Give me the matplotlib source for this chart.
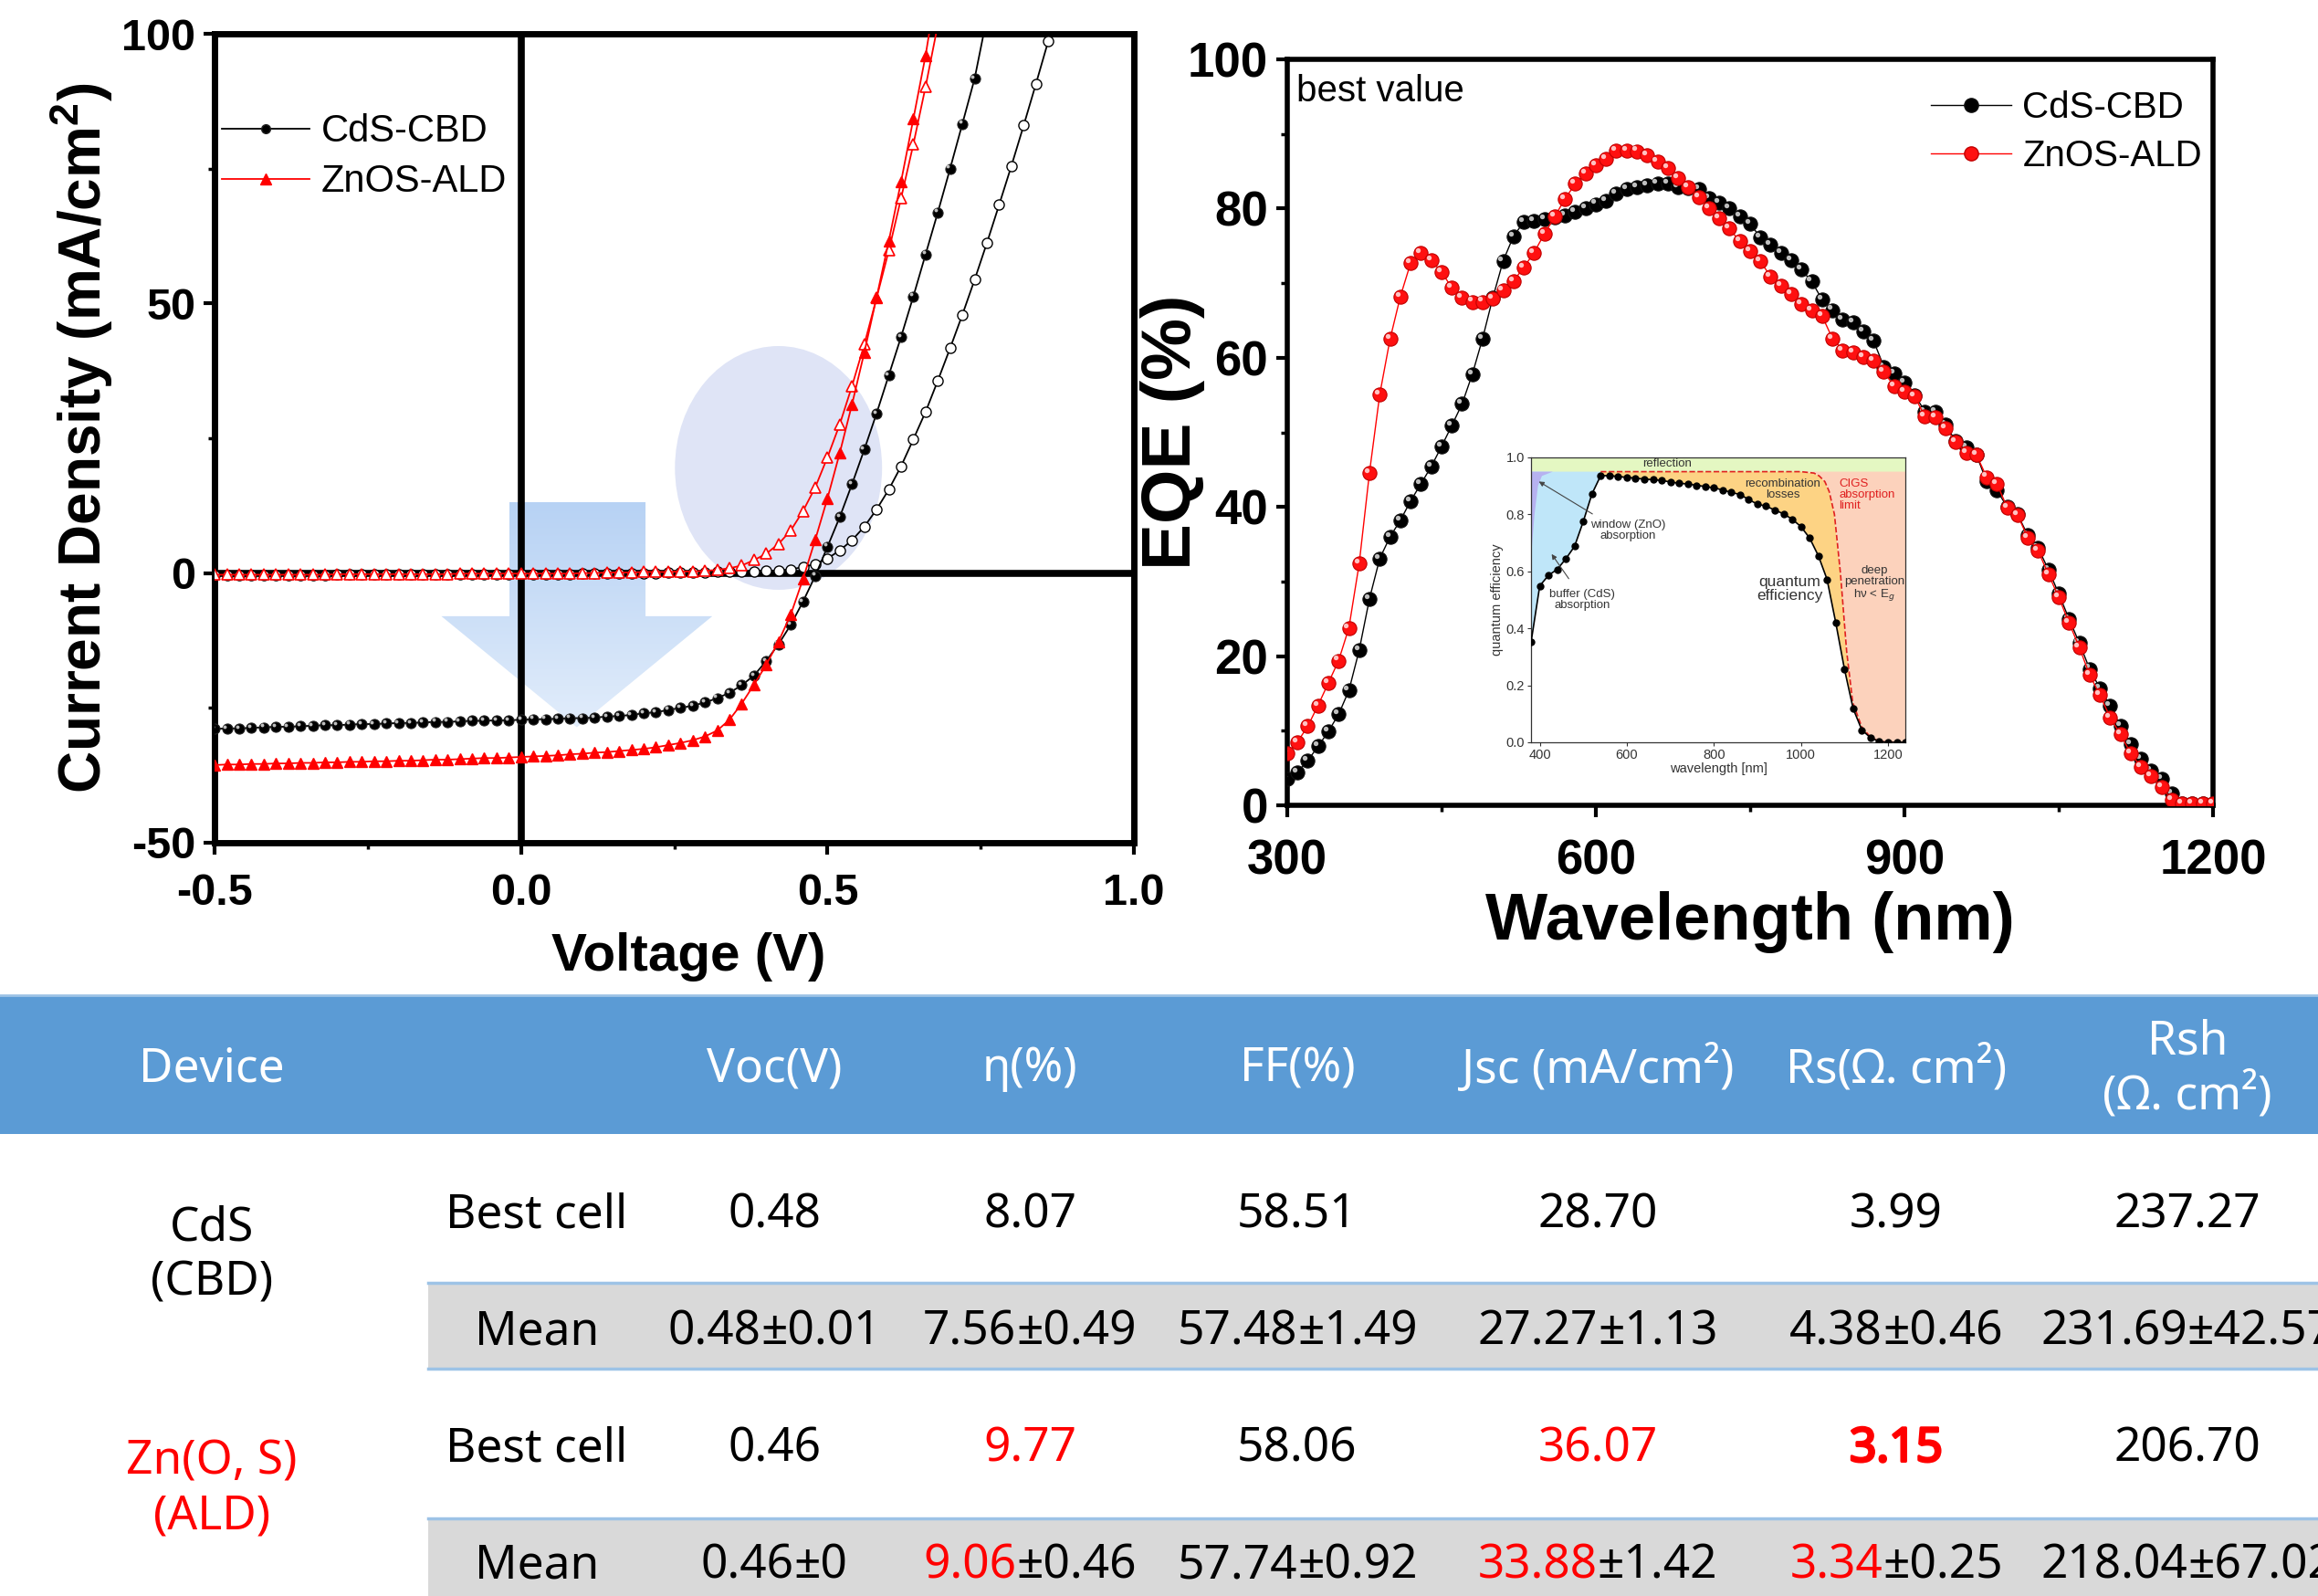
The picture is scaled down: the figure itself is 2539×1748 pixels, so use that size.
import numpy as np
import matplotlib
matplotlib.use("Agg")
import matplotlib.pyplot as plt
import matplotlib.transforms as mtransforms
import matplotlib.patheffects as pe
from matplotlib.patches import Polygon, Ellipse, Rectangle
from matplotlib.lines import Line2D
from matplotlib.colors import LinearSegmentedColormap

plt.rcParams["font.family"] = ["Liberation Sans", "DejaVu Sans"]
plt.rcParams["mathtext.fontset"] = "custom"
plt.rcParams["mathtext.rm"] = "Liberation Sans"
plt.rcParams["mathtext.bf"] = "Liberation Sans:bold"
plt.rcParams["axes.unicode_minus"] = False

# ---------------------------
# J-V data (V step 0.02)
# ---------------------------
volt = [-0.50, -0.48, -0.46, -0.44, -0.42, -0.40, -0.38, -0.36, -0.34, -0.32,
        -0.30, -0.28, -0.26, -0.24, -0.22, -0.20, -0.18, -0.16, -0.14, -0.12,
        -0.10, -0.08, -0.06, -0.04, -0.02, 0.00, 0.02, 0.04, 0.06, 0.08,
        0.10, 0.12, 0.14, 0.16, 0.18, 0.20, 0.22, 0.24, 0.26, 0.28,
        0.30, 0.32, 0.34, 0.36, 0.38, 0.40, 0.42, 0.44, 0.46, 0.48,
        0.50, 0.52, 0.54, 0.56, 0.58, 0.60, 0.62, 0.64, 0.66, 0.68,
        0.70, 0.72, 0.74, 0.76, 0.78, 0.80, 0.82, 0.84, 0.86, 0.88]

j_cds_light = [-28.9, -28.8, -28.8, -28.7, -28.6, -28.5, -28.5, -28.4, -28.3, -28.2,
               -28.2, -28.1, -28.0, -28.0, -27.9, -27.8, -27.8, -27.7, -27.6, -27.6,
               -27.5, -27.4, -27.4, -27.3, -27.3, -27.2, -27.1, -27.1, -27.0, -26.9,
               -26.9, -26.8, -26.6, -26.5, -26.3, -26.0, -25.8, -25.4, -25.0, -24.6,
               -24.0, -23.2, -22.2, -20.8, -19.0, -16.3, -13.2, -9.6, -5.3, -0.5,
               4.9, 10.4, 16.5, 22.9, 29.6, 36.7, 43.8, 51.3, 59.1, 66.9,
               75.0, 83.3, 91.7, 103.0]

j_cds_dark = [-0.4, -0.4, -0.4, -0.4, -0.4, -0.4, -0.4, -0.4, -0.4, -0.4,
              -0.3, -0.3, -0.3, -0.3, -0.3, -0.3, -0.3, -0.3, -0.3, -0.3,
              -0.2, -0.2, -0.2, -0.2, -0.2, -0.2, -0.2, -0.2, -0.2, -0.2,
              -0.1, -0.1, -0.1, 0.0, 0.0, 0.0, 0.0, 0.1, 0.1, 0.1,
              0.1, 0.2, 0.2, 0.3, 0.3, 0.4, 0.5, 0.7, 1.1, 1.7,
              2.7, 4.2, 6.1, 8.6, 11.8, 15.5, 19.8, 24.8, 29.9, 35.7,
              41.7, 47.9, 54.4, 61.2, 68.3, 75.5, 83.0, 90.7, 98.6, 106.6]

j_zno_light = [-35.6, -35.5, -35.5, -35.4, -35.4, -35.3, -35.3, -35.2, -35.2, -35.1,
               -35.1, -35.0, -35.0, -34.9, -34.9, -34.8, -34.8, -34.7, -34.6, -34.6,
               -34.5, -34.4, -34.3, -34.3, -34.2, -34.1, -34.0, -33.9, -33.8, -33.6,
               -33.5, -33.3, -33.2, -33.0, -32.8, -32.6, -32.3, -31.9, -31.5, -31.0,
               -30.3, -29.2, -27.2, -24.2, -20.7, -17.0, -12.7, -7.7, -1.1, 6.2,
               13.9, 22.3, 31.3, 40.9, 51.1, 61.6, 72.6, 84.2, 96.0, 110.0]

j_zno_dark = [-0.3, -0.3, -0.3, -0.3, -0.3, -0.3, -0.3, -0.3, -0.3, -0.3,
              -0.2, -0.2, -0.2, -0.2, -0.2, -0.2, -0.2, -0.2, -0.2, -0.2,
              -0.1, -0.1, -0.1, -0.1, -0.1, -0.1, -0.1, -0.1, -0.1, -0.1,
              0.0, 0.0, 0.1, 0.1, 0.1, 0.2, 0.2, 0.2, 0.3, 0.3,
              0.4, 0.6, 0.9, 1.4, 2.4, 3.6, 5.4, 7.9, 11.5, 15.9,
              21.5, 27.6, 34.7, 42.4, 51.0, 59.8, 69.5, 79.5, 90.2, 101.7]

# ---------------------------
# EQE data (10 nm step)
# ---------------------------
wl = [300, 310, 320, 330, 340, 350, 360, 370, 380, 390,
      400, 410, 420, 430, 440, 450, 460, 470, 480, 490,
      500, 510, 520, 530, 540, 550, 560, 570, 580, 590,
      600, 610, 620, 630, 640, 650, 660, 670, 680, 690,
      700, 710, 720, 730, 740, 750, 760, 770, 780, 790,
      800, 810, 820, 830, 840, 850, 860, 870, 880, 890,
      900, 910, 920, 930, 940, 950, 960, 970, 980, 990,
      1000, 1010, 1020, 1030, 1040, 1050, 1060, 1070, 1080, 1090,
      1100, 1110, 1120, 1130, 1140, 1150, 1160, 1170, 1180, 1190, 1200]

eqe_cds = [3.6, 4.4, 6.0, 7.9, 9.9, 12.2, 15.4, 20.8, 27.7, 33.1,
           36.0, 38.2, 40.8, 43.1, 45.4, 48.1, 50.9, 53.8, 57.8, 62.6,
           68.1, 73.0, 76.3, 78.2, 78.3, 78.6, 78.8, 79.1, 79.6, 80.0,
           80.6, 81.0, 82.0, 82.6, 82.9, 83.1, 83.4, 83.4, 82.9, 82.7,
           82.6, 81.4, 80.8, 80.0, 78.9, 78.0, 76.1, 75.2, 74.1, 73.1,
           71.8, 70.2, 67.8, 66.4, 65.1, 64.7, 63.5, 62.3, 58.8, 57.9,
           56.7, 55.0, 52.8, 52.8, 51.0, 48.8, 48.0, 47.0, 43.4, 42.2,
           40.0, 39.0, 36.2, 34.5, 31.6, 28.4, 25.0, 21.8, 18.3, 15.7,
           13.3, 10.6, 8.2, 6.2, 4.7, 3.6, 1.6, 0.3, 0.3, 0.3, 0.3]

eqe_zno = [7.0, 8.5, 10.6, 13.4, 16.4, 19.4, 23.8, 32.4, 44.6, 55.1,
           62.5, 68.2, 72.7, 74.1, 73.1, 71.5, 69.4, 68.1, 67.5, 67.5,
           67.9, 69.0, 70.3, 72.1, 74.1, 76.6, 78.9, 81.3, 83.3, 84.7,
           85.8, 86.7, 87.8, 87.8, 87.7, 87.1, 86.3, 85.4, 84.1, 82.9,
           81.5, 80.1, 78.7, 77.3, 75.6, 74.3, 72.9, 70.9, 69.7, 68.6,
           67.2, 66.3, 65.6, 62.6, 61.0, 60.7, 60.1, 59.6, 58.1, 56.2,
           55.5, 54.8, 52.1, 52.0, 50.6, 48.7, 47.2, 47.0, 44.0, 43.1,
           39.9, 38.9, 35.9, 34.1, 31.0, 27.9, 24.5, 21.2, 17.5, 14.8,
           11.8, 9.5, 7.0, 5.1, 3.9, 2.5, 0.7, 0.3, 0.3, 0.3, 0.3]

# inset: generic CIGS quantum efficiency (20 nm step)
wl_in = [380, 400, 420, 440, 460, 480, 500, 520, 540, 560,
         580, 600, 620, 640, 660, 680, 700, 720, 740, 760,
         780, 800, 820, 840, 860, 880, 900, 920, 940, 960,
         980, 1000, 1020, 1040, 1060, 1080, 1100, 1120, 1140, 1160,
         1180, 1200, 1220, 1240]
qe_in = [0.351, 0.549, 0.586, 0.607, 0.644, 0.688, 0.775, 0.872, 0.936, 0.936,
         0.933, 0.930, 0.927, 0.924, 0.922, 0.919, 0.914, 0.909, 0.907, 0.902,
         0.898, 0.893, 0.886, 0.877, 0.870, 0.852, 0.836, 0.829, 0.815, 0.802,
         0.783, 0.757, 0.717, 0.655, 0.572, 0.420, 0.257, 0.118, 0.043, 0.016,
         0.003, 0.0, 0.0, 0.0]
limit_wl = [540, 1000, 1030, 1042, 1055, 1065, 1077, 1091, 1105, 1119, 1140, 1161, 1182, 1240]
limit_qe = [0.95, 0.95, 0.945, 0.935, 0.915, 0.88, 0.80, 0.59, 0.32, 0.14, 0.053, 0.016, 0.002, 0.0]
window_wl = [380, 388, 396, 405, 430, 380]
window_qe = [0.65, 0.80, 0.90, 0.935, 0.95, 0.95]

# ---------------------------
# Table data
# ---------------------------
table_cols = ["Voc(V)", "η(%)", "FF(%)", "Jsc (mA/cm²)", "Rs(Ω. cm²)", "Rsh\n(Ω. cm²)"]
cds_best = ["0.48", "8.07", "58.51", "28.70", "3.99", "237.27"]
cds_mean = ["0.48±0.01", "7.56±0.49", "57.48±1.49", "27.27±1.13", "4.38±0.46", "231.69±42.57"]
zno_best = ["0.46", "9.77", "58.06", "36.07", "3.15", "206.70"]
zno_mean = ["0.46±0", "9.06±0.46", "57.74±0.92", "33.88±1.42", "3.34±0.25", "218.04±67.02"]
zno_red_cols = [1, 3, 4]


fig = plt.figure(figsize=(25.39, 17.48), dpi=100)


def sphere_plot(ax, x, y, face, edge, line_color, ms, lw, zorder):
    ax.plot(x, y, "-", color=line_color, lw=lw, marker="o", ms=ms, mfc=face,
            mec=edge, mew=0.8, zorder=zorder)
    off = mtransforms.ScaledTranslation(-ms * 0.2 / 72, ms * 0.2 / 72, fig.dpi_scale_trans)
    ax.plot(x, y, linestyle="none", marker="o", ms=ms * 0.35, mfc="white", mec="none",
            alpha=0.75, transform=ax.transData + off, zorder=zorder + 0.1)


# ---------------------------
# J-V panel
# ---------------------------
ax_jv = fig.add_axes([0.0926, 0.4720, 0.3966, 0.5068])

# decorative down arrow with vertical gradient
arrow_v = [-0.019, -0.019, -0.130, 0.091, 0.312, 0.203, 0.203]
arrow_j = [13.2, -8.0, -8.0, -28.6, -8.0, -8.0, 13.2]
arrow = Polygon(list(zip(arrow_v, arrow_j)), closed=True, facecolor="none", edgecolor="none")
ax_jv.add_patch(arrow)
cmap = LinearSegmentedColormap.from_list("arr", ["#b7d2f4", "#e2edfb"])
grad = np.linspace(0, 1, 256).reshape(-1, 1)
im = ax_jv.imshow(grad, extent=[-0.130, 0.312, -28.6, 13.2], origin="upper", cmap=cmap,
                  aspect="auto", zorder=0.5)
im.set_clip_path(arrow)
ax_jv.add_patch(Ellipse((0.42, 19.5), 0.338, 45.2, facecolor="#dfe4f6", edgecolor="none", zorder=0.6))

ax_jv.axhline(0, color="black", lw=5.5, zorder=1)
ax_jv.axvline(0, color="black", lw=5.5, zorder=1)

ax_jv.plot(volt[:len(j_zno_dark)], j_zno_dark, "-", color="red", lw=1.3, marker="^", ms=9,
           mfc="white", mec="red", mew=1.2, zorder=3)
ax_jv.plot(volt[:len(j_cds_dark)], j_cds_dark, "-", color="black", lw=1.3, marker="o", ms=8,
           mfc="white", mec="black", mew=1.0, zorder=2.8)
sphere_plot(ax_jv, volt[:len(j_cds_light)], j_cds_light, "black", "#222222", "black", 8, 1.3, 3.2)
ax_jv.plot(volt[:len(j_zno_light)], j_zno_light, "-", color="red", lw=1.3, marker="^", ms=9,
           mfc="red", mec="red", zorder=3.4)

ax_jv.set_xlim(-0.5, 1.0)
ax_jv.set_ylim(-50, 100)
ax_jv.set_xticks([-0.5, 0.0, 0.5, 1.0])
ax_jv.set_xticklabels(["-0.5", "0.0", "0.5", "1.0"])
ax_jv.set_xticks([-0.25, 0.25, 0.75], minor=True)
ax_jv.set_yticks([-50, 0, 50, 100])
ax_jv.set_yticks([-25, 25, 75], minor=True)
for s in ax_jv.spines.values():
    s.set_linewidth(5)
ax_jv.tick_params(which="major", direction="out", length=9, width=3, labelsize=35, pad=6)
ax_jv.tick_params(axis="x", which="major", pad=15)
ax_jv.tick_params(which="minor", direction="out", length=5, width=2.5)
for lab in ax_jv.get_xticklabels() + ax_jv.get_yticklabels():
    lab.set_fontweight("bold")
ax_jv.set_xlabel("Voltage (V)", fontsize=42, fontweight="bold")
ax_jv.xaxis.set_label_coords(0.515, -0.111)
ax_jv.set_ylabel(r"Current Density (mA/cm$^\mathbf{2}$)", fontsize=46, fontweight="bold")
ax_jv.yaxis.set_label_coords(-0.108, 0.5)

jv_handles = [Line2D([], [], color="black", lw=1.3, marker="o", ms=7, mfc="black", mec="#222222"),
              Line2D([], [], color="red", lw=1.3, marker="^", ms=9, mfc="red", mec="red")]
ax_jv.legend(jv_handles, ["CdS-CBD", "ZnOS-ALD"], loc="upper left", bbox_to_anchor=(-0.029, 0.944),
             frameon=False, fontsize=30, handlelength=2.3, handletextpad=0.3, labelspacing=0.36)

# ---------------------------
# EQE panel
# ---------------------------
ax_eq = fig.add_axes([0.5553, 0.4954, 0.3994, 0.4674])
sphere_plot(ax_eq, wl, eqe_cds, "black", "#111111", "black", 11, 1.0, 3)
sphere_plot(ax_eq, wl, eqe_zno, "#ff1010", "#c00000", "red", 11, 1.0, 4)
ax_eq.set_xlim(300, 1200)
ax_eq.set_ylim(0, 100)
ax_eq.set_xticks([300, 600, 900, 1200])
ax_eq.set_xticks([450, 750, 1050], minor=True)
ax_eq.set_yticks([0, 20, 40, 60, 80, 100])
ax_eq.set_yticks([10, 30, 50, 70, 90], minor=True)
for s in ax_eq.spines.values():
    s.set_linewidth(4)
ax_eq.tick_params(which="major", direction="out", length=9, width=3, labelsize=38, pad=6)
ax_eq.tick_params(axis="x", which="major", pad=17)
ax_eq.tick_params(which="minor", direction="out", length=5, width=2.5)
for lab in ax_eq.get_xticklabels() + ax_eq.get_yticklabels():
    lab.set_fontweight("bold")
ax_eq.set_xlabel("Wavelength (nm)", fontsize=52, fontweight="bold")
ax_eq.xaxis.set_label_coords(0.5, -0.115)
ax_eq.set_ylabel("EQE (%)", fontsize=55, fontweight="bold")
ax_eq.yaxis.set_label_coords(-0.089, 0.5)
ax_eq.text(0.01, 0.957, "best value", transform=ax_eq.transAxes, fontsize=29, ha="left", va="center")
eq_handles = [Line2D([], [], color="black", lw=1.0, marker="o", ms=11, mfc="black", mec="#111111"),
              Line2D([], [], color="red", lw=1.0, marker="o", ms=11, mfc="#ff1010", mec="#c00000")]
ax_eq.legend(eq_handles, ["CdS-CBD", "ZnOS-ALD"], loc="upper right", bbox_to_anchor=(1.024, 1.003),
             frameon=False, fontsize=29, handlelength=2.2, handletextpad=0.3, labelspacing=0.37)

# ---------------------------
# Inset (generic QE loss diagram)
# ---------------------------
ax_in = fig.add_axes([0.6605, 0.5349, 0.1615, 0.1785])
ax_in.axhspan(0.95, 1.0, color="#e4f7c2", lw=0, zorder=0)
blue_poly = list(zip(wl_in[:9], qe_in[:9])) + [(540, 0.95), (380, 0.95)]
ax_in.add_patch(Polygon(blue_poly, closed=True, facecolor="#bfe6f9", edgecolor="none", zorder=0.5))
ax_in.add_patch(Polygon(list(zip(window_wl, window_qe)), closed=True, facecolor="#b6b2f0",
                        edgecolor="none", zorder=0.6))
orange_poly = list(zip(wl_in[8:], qe_in[8:])) + list(zip(limit_wl[::-1], limit_qe[::-1]))
ax_in.add_patch(Polygon(orange_poly, closed=True, facecolor="#fdd384", edgecolor="none", zorder=0.5))
salmon_poly = list(zip(limit_wl[1:], limit_qe[1:])) + [(1240, 0.95)]
ax_in.add_patch(Polygon(salmon_poly, closed=True, facecolor="#fcd2bc", edgecolor="none", zorder=0.5))
ax_in.plot(limit_wl, limit_qe, "--", color="#e02020", lw=1.2, zorder=2)
ax_in.plot(wl_in, qe_in, "-", color="black", lw=1.2, marker="o", ms=5, mfc="black", mec="black", zorder=3)
ax_in.set_xlim(380, 1240)
ax_in.set_ylim(0, 1.0)
ax_in.set_xticks([400, 600, 800, 1000, 1200])
ax_in.set_yticks([0.0, 0.2, 0.4, 0.6, 0.8, 1.0])
ax_in.set_yticklabels(["0.0", "0.2", "0.4", "0.6", "0.8", "1.0"])
for s in ax_in.spines.values():
    s.set_linewidth(0.9)
    s.set_color("#333333")
ax_in.tick_params(direction="out", length=3, width=0.8, labelsize=10.5, colors="#333333", pad=2)
ax_in.set_xlabel("wavelength [nm]", fontsize=10.5, color="#333333", labelpad=1)
ax_in.set_ylabel("quantum efficiency", fontsize=10.5, color="#333333", labelpad=2)
tc = "#333333"
ax_in.text(693, 0.976, "reflection", fontsize=9.5, color=tc, ha="center", va="center")
ax_in.text(958, 0.888, "recombination\nlosses", fontsize=9.5, color=tc, ha="center", va="center", linespacing=1.0)
ax_in.text(1087, 0.87, "CIGS\nabsorption\nlimit", fontsize=9.5, color="#e02020", ha="left", va="center", linespacing=1.0)
ax_in.text(602, 0.745, "window (ZnO)\nabsorption", fontsize=9.5, color=tc, ha="center", va="center", linespacing=1.0)
ax_in.text(498, 0.50, "buffer (CdS)\nabsorption", fontsize=9.5, color=tc, ha="center", va="center", linespacing=1.0)
ax_in.text(974, 0.54, "quantum\nefficiency", fontsize=12.5, color=tc, ha="center", va="center", linespacing=1.0)
ax_in.text(1168, 0.555, "deep\npenetration\nhν < E$_g$", fontsize=9.5, color=tc, ha="center", va="center", linespacing=1.0)
arrow_kw = dict(arrowstyle="-|>", color="#444444", lw=0.8, mutation_scale=8)
ax_in.annotate("", xy=(393, 0.92), xytext=(526, 0.797), arrowprops=arrow_kw, zorder=4)
ax_in.annotate("", xy=(424, 0.668), xytext=(470, 0.567), arrowprops=arrow_kw, zorder=4)

# ---------------------------
# Table (drawn in pixel coordinates of the figure)
# ---------------------------
tab = fig.add_axes([0, 0, 1, 1], zorder=-1)
tab.set_xlim(0, 2539)
tab.set_ylim(1748, 0)
tab.axis("off")

tab.add_patch(Rectangle((0, 1090), 2539, 152, facecolor="#5b9bd5", edgecolor="none"))
tab.plot([0, 2539], [1090, 1090], color="#9dc3e6", lw=2)
tab.add_patch(Rectangle((469, 1405), 2070, 94, facecolor="#d9d9d9", edgecolor="none"))
tab.add_patch(Rectangle((469, 1663), 2070, 85, facecolor="#d9d9d9", edgecolor="none"))
for yy in [1405, 1499, 1663]:
    tab.plot([469, 2539], [yy, yy], color="#9dc3e6", lw=2.5)

col_x = [848, 1128, 1421, 1750, 2077, 2396]
row_y = [1331, 1459, 1587, 1715]
fkw = dict(fontsize=37, family=["Noto Sans", "DejaVu Sans"])

tab.text(232, 1171, "Device", color="white", ha="center", va="center", **fkw)
for x, name in zip(col_x, table_cols):
    tab.text(x, 1171, name, color="white", ha="center", va="center", linespacing=1.2, **fkw)

tab.text(232, 1375, "CdS\n(CBD)", color="black", ha="center", va="center", linespacing=1.25, **fkw)
tab.text(232, 1631, "Zn(O, S)\n(ALD)", color="red", ha="center", va="center", linespacing=1.25, **fkw)
for yy, lab in zip(row_y, ["Best cell", "Mean", "Best cell", "Mean"]):
    tab.text(588, yy, lab, color="black", ha="center", va="center", **fkw)

renderer = fig.canvas.get_renderer()


def cell(x, y, text, red=False, bold=False):
    head_color = "red" if red else "black"
    effects = [pe.withStroke(linewidth=2.2, foreground=head_color)] if bold else None
    if "±" not in text:
        tab.text(x, y, text, color=head_color, ha="center", va="center",
                 path_effects=effects, **fkw)
        return
    head, tail = text.split("±")
    t1 = tab.text(0, y, head, color=head_color, ha="left", va="center", **fkw)
    t2 = tab.text(0, y, "±" + tail, color="black", ha="left", va="center", **fkw)
    w1 = t1.get_window_extent(renderer).width
    w2 = t2.get_window_extent(renderer).width
    x0 = x - (w1 + w2) / 2
    t1.set_x(x0)
    t2.set_x(x0 + w1)


for i, x in enumerate(col_x):
    cell(x, row_y[0], cds_best[i])
    cell(x, row_y[1], cds_mean[i])
    cell(x, row_y[2], zno_best[i], red=i in zno_red_cols, bold=(i == 4))
    cell(x, row_y[3], zno_mean[i], red=i in zno_red_cols)

fig.savefig("out.png", dpi=100)
